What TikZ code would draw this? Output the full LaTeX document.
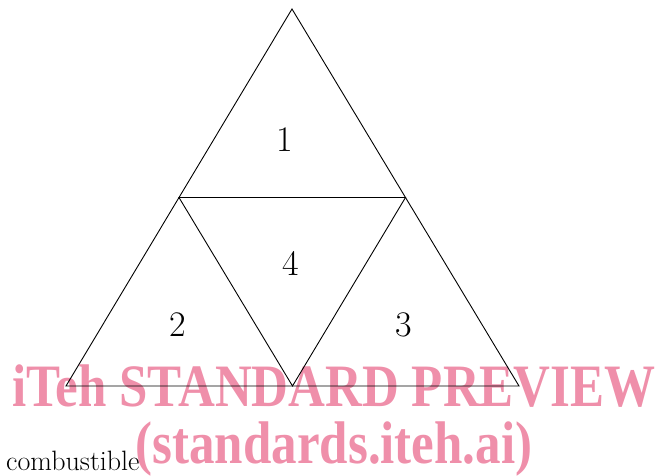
\documentclass[tikz,border=0pt]{standalone}
\usepackage{fontspec}
\newfontfamily\filigrane{Liberation Serif}
\usetikzlibrary{math,calc}

\begin{document}
\begin{tikzpicture}[x=1pt, y=-1pt]

	\tikzmath{
		\xA = 292;  \yA = 9;     % sommet haut
		\xB = 66;   \yB = 386;   % sommet bas gauche
		\xC = 519;  \yC = 386;   % sommet bas droit
	}

	\useasboundingbox (0,0) rectangle (660,475);

	\definecolor{rose}{RGB}{239,143,170}

	% filigrane (un peu etire en hauteur)
	\tikzset{wm/.style={font=\filigrane\bfseries\fontsize{51}{57}\selectfont,
				text=rose, inner sep=0pt, anchor=base, yscale=1.18, transform shape}}
	\node[wm] (wmA) at (334, 406) {iTeh STANDARD PREVIEW};
	\node[wm] (wmB) at (334, 463) {(standards.iteh.ai)};

	% sommets et milieux
	\coordinate (A)  at (\xA, \yA);
	\coordinate (B)  at (\xB, \yB);
	\coordinate (C)  at (\xC, \yC);
	\coordinate (AB) at ($(A)!0.5!(B)$);
	\coordinate (AC) at ($(A)!0.5!(C)$);
	\coordinate (BC) at ($(B)!0.5!(C)$);

	\tikzset{tri/.style={draw=black, line width=0.9pt, line join=miter}}

	\draw[tri] (A) -- (B) -- (C) -- cycle;
	\draw[tri] (AB) -- (AC) -- (BC) -- cycle;

	\tikzset{num/.style={font=\fontsize{36}{40}\selectfont, inner sep=0pt}}

	\node[num] (n1) at (285, 140) {1};
	\node[num] (n4) at (291, 263) {4};
	\node[num] (n2) at (178, 325) {2};
	\node[num] (n3) at (404, 325) {3};

	\node[font=\fontsize{28}{32}\selectfont, inner sep=0pt, anchor=base west]
		(comb) at (6, 470) {combustible};

\end{tikzpicture}
\end{document}
